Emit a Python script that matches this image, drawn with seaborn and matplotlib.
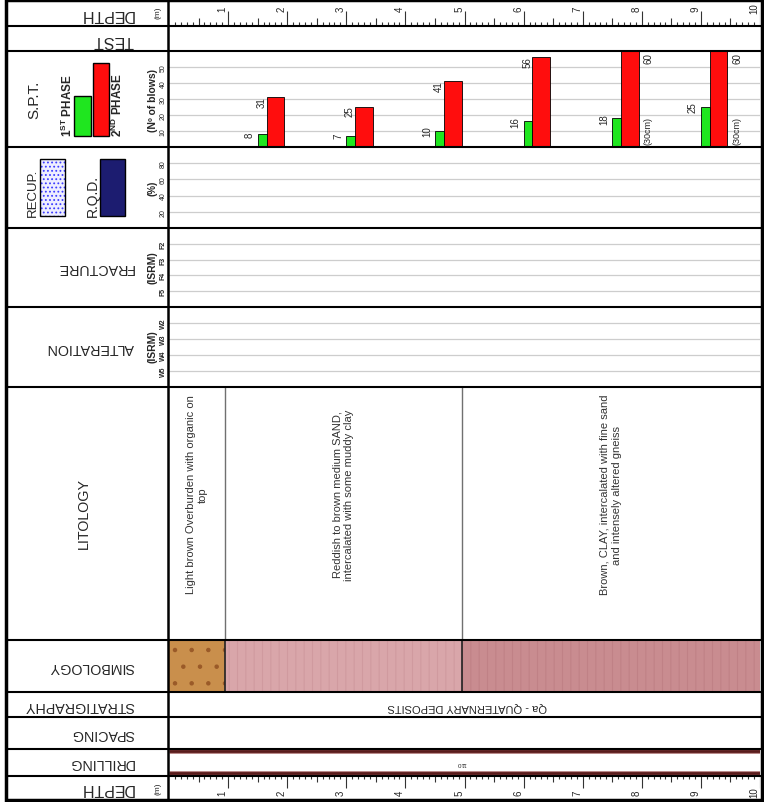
import numpy as np
import pandas as pd
import matplotlib
matplotlib.use('Agg')
import matplotlib.pyplot as plt
from matplotlib.patches import Rectangle
import seaborn as sns

# SPT tests: top depth (m), blows for 1st phase (15cm) and 2nd phase (30cm)
spt_depth = [1.5, 3.0, 4.5, 6.0, 7.5, 9.0]
phase1_blows = [8, 7, 10, 16, 18, 25]
phase2_blows = [31, 25, 41, 56, 60, 60]
phase2_note = ['', '', '', '', '(30cm)', '(30cm)']

# lithology layers
layer_top = [0.0, 0.95, 4.95]
layer_bottom = [0.95, 4.95, 10.0]
layer_text = ['Light brown Overburden with organic on\ntop',
              'Reddish to brown medium SAND,\nintercalated with some muddy clay',
              'Brown, CLAY, intercalated with fine sand\nand intensely altered gneiss']
layer_color = ['#c98f4c', '#d9a6aa', '#c98c90']
layer_hatch = ['.', '||', '||']
layer_hatch_color = ['#9a5a28', '#d09a9f', '#c08186']

stratigraphy = 'Qa - QUATERNARY DEPOSITS'
drill_diameter = '110'
depth_max = 10

frac_labels = ['F5', 'F4', 'F3', 'F2']
alt_labels = ['W5', 'W4', 'W3', 'W2']

GREEN = '#1fe61f'
RED = '#ff0d0d'

sns.set_style('white')
plt.rcParams['font.family'] = ['Liberation Sans', 'DejaVu Sans']
plt.rcParams['mathtext.fontset'] = 'custom'
plt.rcParams['mathtext.rm'] = 'Liberation Sans'
plt.rcParams['mathtext.bf'] = 'Liberation Sans:bold'
plt.rcParams['hatch.linewidth'] = 0.8

W, H = 764, 803
X0, X1 = 169, 760
rows = [1, 27, 52, 148, 229, 308, 388, 641, 693, 718, 750, 777, 801]

fig = plt.figure(figsize=(W / 100, H / 100), dpi=100)


def panel(y0, y1):
    ax = fig.add_axes([X0 / W, 1 - y1 / H, (X1 - X0) / W, (y1 - y0) / H])
    ax.set_xlim(0, depth_max)
    for s in ax.spines.values():
        s.set_visible(False)
    ax.set_xticks([])
    ax.set_yticks([])
    ax.set_facecolor('none')
    return ax


def grid_ticks(ax, ticks, labels, bold=False):
    ax.set_yticks(ticks)
    ax.set_yticklabels(labels, rotation=90, fontsize=5,
                       fontweight='bold' if bold else 'normal', va='center')
    ax.tick_params(axis='y', length=0, pad=1.5)
    ax.grid(axis='y', color='#cdcdcd', lw=0.9)
    ax.set_axisbelow(True)


# ---- SPT ----
ax = panel(52, 148)
spt = pd.DataFrame({'depth': spt_depth, 'p1': phase1_blows, 'p2': phase2_blows})
spt['p1_mid'] = spt['depth'] + 0.075
spt['p2_mid'] = spt['depth'] + 0.30
sns.barplot(data=spt, x='p1_mid', y='p1', native_scale=True, width=0.1,
            color=GREEN, saturation=1, edgecolor='black', linewidth=0.6,
            errorbar=None, ax=ax)
sns.barplot(data=spt, x='p2_mid', y='p2', native_scale=True, width=0.2,
            color=RED, saturation=1, edgecolor='black', linewidth=0.6,
            errorbar=None, ax=ax)
ax.set_xlim(0, depth_max)
ax.set_ylim(0, 60)
ax.set_xlabel('')
ax.set_ylabel('')
ax.set_xticks([])
grid_ticks(ax, [10, 20, 30, 40, 50], ['10', '20', '30', '40', '50'])
for d, b1, b2, note in zip(spt_depth, phase1_blows, phase2_blows, phase2_note):
    ax.text(d - 0.05, b1, str(b1), rotation=90, ha='right', va='center', fontsize=7)
    if note:
        ax.text(d + 0.53, 59.5, str(b2), rotation=90, ha='left', va='top', fontsize=7)
        ax.text(d + 0.53, 2, note, rotation=90, ha='left', va='bottom', fontsize=6.5)
    else:
        ax.text(d + 0.06, b2 + 0.8, str(b2), rotation=90, ha='center', va='top', fontsize=7)

# ---- RECUP / RQD ----
ax = panel(148, 229)
ax.set_ylim(0, 100)
grid_ticks(ax, [20, 40, 60, 80], ['20', '40', '60', '80'])

# ---- FRACTURE / ALTERATION ----
ax = panel(229, 308)
ax.set_ylim(0, 5)
grid_ticks(ax, [1, 2, 3, 4], frac_labels, bold=True)
ax = panel(308, 388)
ax.set_ylim(0, 5)
grid_ticks(ax, [1, 2, 3, 4], alt_labels, bold=True)

# ---- LITOLOGY ----
ax = panel(388, 641)
ax.set_ylim(0, 1)
for b in layer_top[1:]:
    ax.axvline(b, color='#707070', lw=1)
for t, b, txt in zip(layer_top, layer_bottom, layer_text):
    ax.text((t + b) / 2, 0.577, txt, rotation=90, ha='center', va='center',
            multialignment='center', fontsize=8, linespacing=1.25, color='#333333')

# ---- SIMBOLOGY ----
ax = panel(641, 693)
ax.set_ylim(0, 1)
for t, b, c, h, hc in zip(layer_top, layer_bottom, layer_color, layer_hatch, layer_hatch_color):
    ax.bar(t, 1, width=b - t, align='edge', color=c, hatch=h, edgecolor=hc, lw=0)
for b in layer_top[1:]:
    ax.axvline(b, color='#222222', lw=1.2)

# ---- STRATIGRAPHY ----
ax = panel(693, 718)
ax.set_ylim(0, 1)
ax.text(5.05, 0.45, stratigraphy, rotation=180, ha='center', va='center', fontsize=8)

# ---- SPACING ----
panel(718, 750)

# ---- DRILLING ----
ax = panel(750, 777)
ax.set_ylim(0, 27)
ax.hlines([25, 3], 0, depth_max, color='#b98a8a', lw=3.6)
ax.hlines([25, 3], 0, depth_max, color='#5a1c1c', lw=2.0)
ax.text(4.95, 13.5, drill_diameter, rotation=180, ha='center', va='center', fontsize=4.5)

# ---- DEPTH rulers ----
ticks = np.round(np.arange(0, depth_max + 0.001, 0.1), 1)


def tick_len(d):
    if abs(d - round(d)) < 1e-6:
        return 15
    if abs(d * 2 - round(d * 2)) < 1e-6:
        return 8
    return 4


ax = panel(1, 27)
ax.set_ylim(26, 0)
for d in ticks[1:]:
    ax.vlines(d, 26 - tick_len(d), 26, color='#333333', lw=0.8)
for d in range(1, depth_max + 1):
    ax.text(d - 0.09, 8, str(d), rotation=90, ha='center', va='center', fontsize=7)

ax = panel(777, 801)
ax.set_ylim(24, 0)
for d in ticks[1:]:
    ax.vlines(d, 0, tick_len(d) * 0.8, color='#333333', lw=0.8)
for d in range(1, depth_max + 1):
    ax.text(d - 0.09, 16, str(d), rotation=90, ha='center', va='center', fontsize=7)

# ---- frame and label column ----
ov = fig.add_axes([0, 0, 1, 1])
ov.set_xlim(0, W)
ov.set_ylim(H, 0)
ov.axis('off')
ov.set_facecolor('none')
ov.add_patch(Rectangle((6, 1), 756, 800, fill=False, lw=2.5, ec='black'))
ov.hlines(rows[1:-1], 6, 762, color='black', lw=1.5)
ov.vlines(168, 1, 801, color='black', lw=1.8)

hdr = dict(rotation=180, ha='right', va='center', fontsize=10.3)
ov.text(134, 14, 'DEPTH', **{**hdr, 'fontsize': 11.5})
ov.text(134, 40, 'TEST', **{**hdr, 'fontsize': 11.5})
ov.text(134, 268, 'FRACTURE', **hdr)
ov.text(134, 348, 'ALTERATION', **hdr)
ov.text(134, 667, 'SIMBOLOGY', **hdr)
ov.text(134, 706, 'STRATIGRAPHY', **hdr)
ov.text(134, 734, 'SPACING', **hdr)
ov.text(134, 763, 'DRILLING', **hdr)
ov.text(134, 789, 'DEPTH', **{**hdr, 'fontsize': 11.5})
ov.text(158, 13, '(m)', rotation=90, ha='center', va='center', fontsize=6)
ov.text(158, 789, '(m)', rotation=90, ha='center', va='center', fontsize=6)

ov.text(84, 514, 'LITOLOGY', rotation=90, ha='center', va='center', fontsize=10.3)

# SPT legend
ov.text(34, 100, 'S.P.T.', rotation=90, ha='center', va='center', fontsize=11)
ov.add_patch(Rectangle((74, 97), 17, 40, fc=GREEN, ec='black', lw=1))
ov.add_patch(Rectangle((93, 64), 16, 73, fc=RED, ec='black', lw=1))
ov.text(67, 137, r'1$^{\mathbf{ST}}$ PHASE', rotation=90, ha='center', va='bottom',
        fontsize=8.5, fontweight='bold')
ov.text(117, 137, r'2$^{\mathbf{ND}}$ PHASE', rotation=90, ha='center', va='bottom',
        fontsize=8.5, fontweight='bold')
ov.text(153, 101, '(Nº of blows)', rotation=90, ha='center', va='center',
        fontsize=7.5, fontweight='bold')

# RECUP / RQD legend
ov.add_patch(Rectangle((40, 160), 25, 57, fc='#eeeeff', ec='#3c3cff', hatch='....', lw=0))
ov.add_patch(Rectangle((40, 160), 25, 57, fill=False, ec='black', lw=1))
ov.add_patch(Rectangle((100, 160), 25, 57, fc='#1c1c70', ec='black', lw=1))
ov.text(33, 217, 'RECUP.', rotation=90, ha='center', va='bottom', fontsize=9.5)
ov.text(93, 217, 'R.Q.D.', rotation=90, ha='center', va='bottom', fontsize=10)
ov.text(152, 188, '(%)', rotation=90, ha='center', va='center', fontsize=7, fontweight='bold')

ov.text(152, 268, '(ISRM)', rotation=90, ha='center', va='center', fontsize=7.5, fontweight='bold')
ov.text(152, 347, '(ISRM)', rotation=90, ha='center', va='center', fontsize=7.5, fontweight='bold')

fig.savefig('out.png', dpi=100, facecolor='white')
